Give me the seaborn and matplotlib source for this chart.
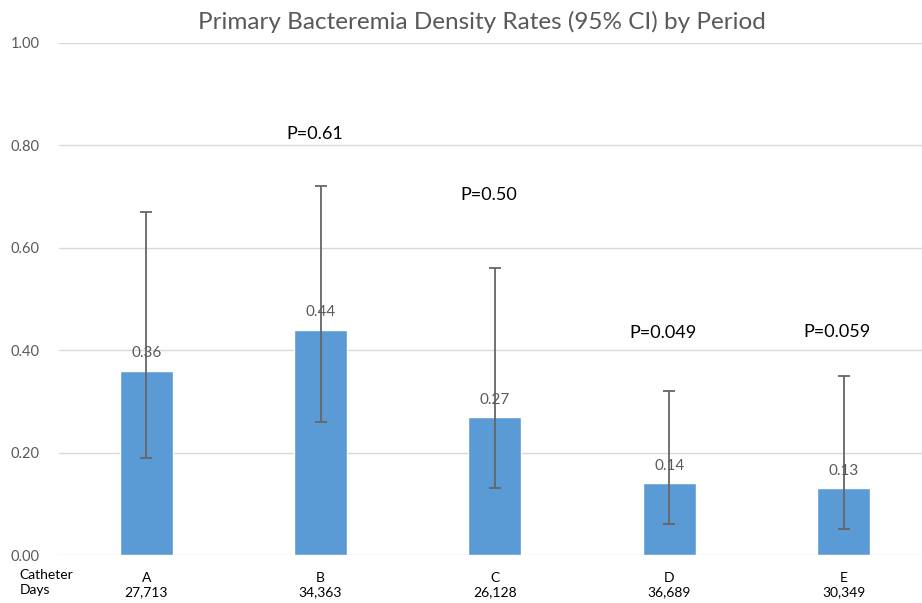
import matplotlib
matplotlib.use("Agg")
import matplotlib.pyplot as plt
import seaborn as sns
import numpy as np
import pandas as pd

# data
periods = ["A", "B", "C", "D", "E"]
catheter_days = ["27,713", "34,363", "26,128", "36,689", "30,349"]
rates = [0.36, 0.44, 0.27, 0.14, 0.13]
ci_low = [0.19, 0.26, 0.13, 0.06, 0.05]
ci_high = [0.67, 0.72, 0.56, 0.32, 0.35]
p_periods = ["B", "C", "D", "E"]
p_values = ["P=0.61", "P=0.50", "P=0.049", "P=0.059"]

sns.set_theme(style="white")
plt.rcParams["font.family"] = ["Lato", "DejaVu Sans"]

df = pd.DataFrame({"period": periods, "rate": rates})

fig = plt.figure(figsize=(9.22, 6.03), dpi=100)
ax = fig.add_axes([0.064, 0.0796, 0.936, 0.8491])

sns.barplot(data=df, x="period", y="rate", color="#5b9bd5", width=0.305,
            errorbar=None, saturation=1, ax=ax)

x = np.arange(len(periods))
y = np.array(rates)
yerr = [y - np.array(ci_low), np.array(ci_high) - y]
ax.errorbar(x, y, yerr=yerr, fmt="none", ecolor="#666666", elinewidth=1.3,
            capsize=4, capthick=1.3, zorder=3)

# value labels above bars
for xi, v in zip(x, rates):
    ax.text(xi, v + 0.02, f"{v:.2f}", ha="center", va="bottom",
            fontsize=11, color="#595959", zorder=4)

# p-value annotations (vertical placement as in the reference)
p_label_y = [0.822, 0.703, 0.434, 0.435]
for per, txt, py in zip(p_periods, p_values, p_label_y):
    xi = periods.index(per)
    ax.text(xi - 0.035, py, txt, ha="center", va="center", fontsize=13,
            color="black")

ax.set_ylim(0, 1.0)
ax.set_xlim(-0.5, 4.45)
ax.set_yticks(np.arange(0, 1.01, 0.2))
ax.set_yticklabels([f"{t:.2f}" for t in np.arange(0, 1.01, 0.2)],
                   fontsize=10.5, color="#595959")
ax.yaxis.grid(True, color="#d9d9d9", linewidth=1)
ax.set_axisbelow(True)
for s in ax.spines.values():
    s.set_visible(False)
ax.tick_params(axis="y", length=0, pad=14)
ax.tick_params(axis="x", length=0, pad=12)

ax.set_xticks(x)
ax.set_xticklabels([f"{p}\n{d}" for p, d in zip(periods, catheter_days)],
                   fontsize=10, color="black", linespacing=1.25)
ax.set_xlabel("")
ax.set_ylabel("")

fig.text(0.021, 0.0338, "Catheter\nDays", ha="left", va="center",
         fontsize=10, color="black", linespacing=1.25)

fig.text(0.523, 0.963, "Primary Bacteremia Density Rates (95% CI) by Period",
         ha="center", va="center", fontsize=17.5, color="#595959")

fig.savefig("out.png", dpi=100)
